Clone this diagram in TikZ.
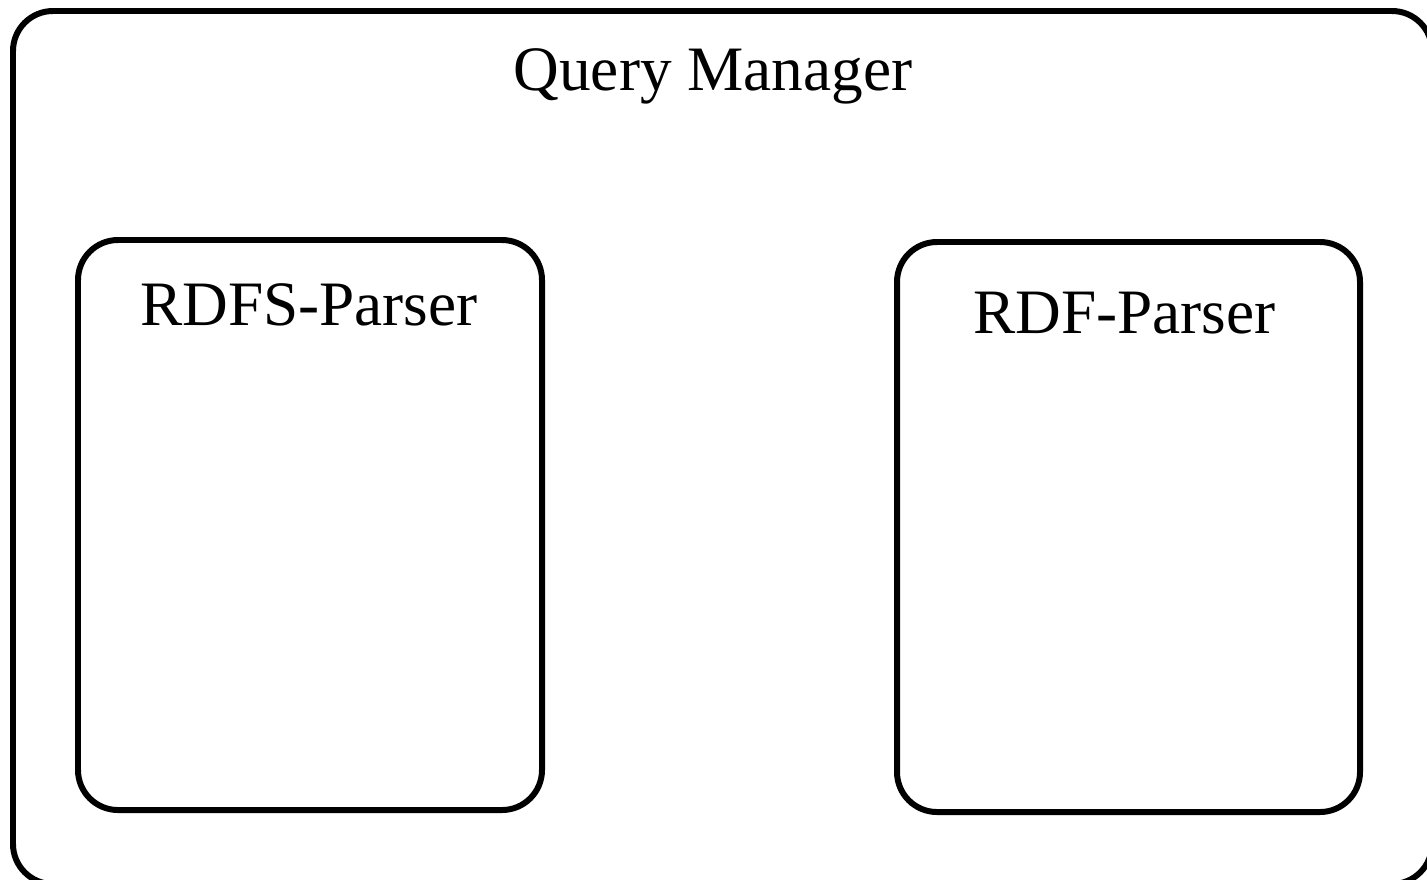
\documentclass[tikz,border=0pt]{standalone}
\usepackage{fontspec}
\setmainfont{Liberation Serif}
\usepackage{tikz}

\tikzset{
  part/.style={draw, line width=1.7pt, rounded corners=0.4cm, inner sep=0pt},
  title/.style={anchor=base, font=\fontsize{18}{22}\selectfont}
}

\begin{document}
\begin{tikzpicture}
        \useasboundingbox (0,0) rectangle (14.27,8.79);
        \clip (0,0) rectangle (14.27,8.79);
        % outer box, runs off the right and bottom
        \node[part, minimum width=14.19cm, minimum height=8.73cm] (qm) at (7.225,4.315) {};
        \node[part, minimum width=4.64cm, minimum height=5.70cm] (rdfs) at (3.10,3.54) {};
        \node[part, minimum width=4.63cm, minimum height=5.70cm] (rdf) at (11.285,3.52) {};
        \node[title] (qmlabel) at (7.13,7.89) {Query Manager};
        \node[title] (rdfslabel) at (3.09,5.54) {RDFS-Parser};
        \node[title] (rdflabel) at (11.245,5.46) {RDF-Parser};
    \end{tikzpicture}
\end{document}
